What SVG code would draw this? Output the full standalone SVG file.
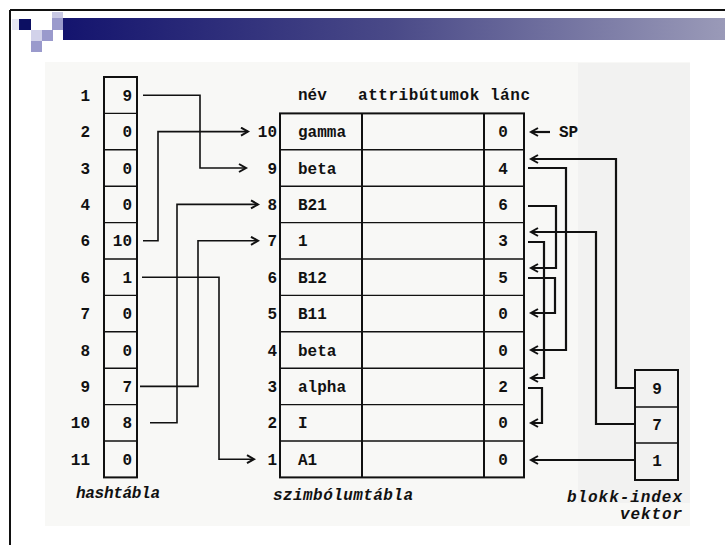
<svg xmlns="http://www.w3.org/2000/svg" width="725" height="545" viewBox="0 0 725 545">
<defs>
<linearGradient id="bar" x1="0" y1="0" x2="1" y2="0">
<stop offset="0" stop-color="#14146e"/>
<stop offset="0.5" stop-color="#4a4a88"/>
<stop offset="1" stop-color="#9a9ab8"/>
</linearGradient>
<marker id="ah" markerUnits="userSpaceOnUse" markerWidth="12" markerHeight="12" refX="8" refY="5" orient="auto">
<path d="M1,1 L8,5 L1,9" fill="none" stroke="#111" stroke-width="2"/>
</marker>
<style>
.t{font-family:"Liberation Mono","DejaVu Sans Mono",monospace;font-weight:bold;font-size:16px;fill:#111}
.n{text-anchor:end}
.c{text-anchor:middle}
.i{font-style:italic}
.box{fill:none;stroke:#111;stroke-width:2}
.ln{fill:none;stroke:#111;stroke-width:1.4}
.con{fill:none;stroke:#111;stroke-width:1.6}
.ch{fill:none;stroke:#111;stroke-width:2.2}
</style>
</defs>
<!-- slide frame and header -->
<rect x="0" y="0" width="725" height="545" fill="#ffffff"/>
<rect x="45" y="62" width="645" height="464" fill="#f8f8f6"/>
<rect x="578" y="63" width="112" height="440" fill="#ececea" opacity="0.45"/>
<line x1="10" y1="10" x2="725" y2="10" stroke="#111" stroke-width="2"/>
<line x1="10" y1="10" x2="10" y2="545" stroke="#111" stroke-width="2"/>
<rect x="63" y="18" width="662" height="22" fill="url(#bar)"/>
<rect x="12" y="19" width="7" height="11" fill="#e6e6f2"/>
<rect x="19" y="19" width="12" height="11" fill="#0c0f62"/>
<rect x="52" y="12" width="11" height="6" fill="#c8c8e4"/>
<rect x="52" y="18" width="11" height="12" fill="#9a9acc"/>
<rect x="31" y="30" width="11" height="11" fill="#d2d2ea"/>
<rect x="42" y="30" width="11" height="11" fill="#9a9acc"/>
<rect x="31" y="41" width="11" height="11" fill="#9a9acc"/>

<!-- hash table -->
<g id="hashtabla">
<rect class="box" x="104" y="77" width="33" height="400.4"/>
<path class="ln" d="M104,113.4H137M104,149.8H137M104,186.2H137M104,222.6H137M104,259H137M104,295.4H137M104,331.8H137M104,368.2H137M104,404.6H137M104,441H137"/>
<g class="t n">
<text x="90" y="100.7">1</text><text x="90" y="137.1">2</text><text x="90" y="173.5">3</text><text x="90" y="209.9">4</text><text x="90" y="246.3">6</text><text x="90" y="282.7">6</text><text x="90" y="319.1">7</text><text x="90" y="355.5">8</text><text x="90" y="391.9">9</text><text x="90" y="428.3">10</text><text x="90" y="464.7">11</text>
<text x="132" y="100.7">9</text><text x="132" y="137.1">0</text><text x="132" y="173.5">0</text><text x="132" y="209.9">0</text><text x="132" y="246.3">10</text><text x="132" y="282.7">1</text><text x="132" y="319.1">0</text><text x="132" y="355.5">0</text><text x="132" y="391.9">7</text><text x="132" y="428.3">8</text><text x="132" y="464.7">0</text>
</g>
<text class="t i" x="76" y="498" textLength="84">hashtábla</text>
</g>

<!-- symbol table -->
<g id="szimbolumtabla">
<text class="t" x="298" y="100">név</text>
<text class="t" x="358" y="100" textLength="172">attribútumok lánc</text>
<rect class="box" x="280" y="113.4" width="244" height="364"/>
<path class="box" d="M362,113.4V477.4M484,113.4V477.4"/>
<path class="ln" d="M280,149.8H524M280,186.2H524M280,222.6H524M280,259H524M280,295.4H524M280,331.8H524M280,368.2H524M280,404.6H524M280,441H524"/>
<g class="t n">
<text x="277" y="137.1">10</text><text x="277" y="173.5">9</text><text x="277" y="209.9">8</text><text x="277" y="246.3">7</text><text x="277" y="282.7">6</text><text x="277" y="319.1">5</text><text x="277" y="355.5">4</text><text x="277" y="391.9">3</text><text x="277" y="428.3">2</text><text x="277" y="464.7">1</text>
</g>
<g class="t">
<text x="298" y="137.1">gamma</text><text x="298" y="173.5">beta</text><text x="298" y="209.9">B21</text><text x="298" y="246.3">1</text><text x="298" y="282.7">B12</text><text x="298" y="319.1">B11</text><text x="298" y="355.5">beta</text><text x="298" y="391.9">alpha</text><text x="298" y="428.3">I</text><text x="298" y="464.7">A1</text>
</g>
<g class="t c">
<text x="503" y="137.1">0</text><text x="503" y="173.5">4</text><text x="503" y="209.9">6</text><text x="503" y="246.3">3</text><text x="503" y="282.7">5</text><text x="503" y="319.1">0</text><text x="503" y="355.5">0</text><text x="503" y="391.9">2</text><text x="503" y="428.3">0</text><text x="503" y="464.7">0</text>
</g>
<text class="t" x="559" y="137">SP</text>
<text class="t i" x="273" y="500" textLength="140">szimbólumtábla</text>
</g>

<!-- block index vector -->
<g id="blokk-index">
<rect class="box" x="635" y="370" width="43" height="110"/>
<path class="ln" d="M635,407H678M635,443H678"/>
<g class="t c">
<text x="657" y="393.5">9</text><text x="657" y="430">7</text><text x="657" y="466">1</text>
</g>
<text class="t i" x="567" y="502" textLength="115">blokk-index</text>
<text class="t i" x="620" y="519" textLength="62">vektor</text>
</g>

<!-- connectors -->
<g id="connectors">
<path class="con" marker-end="url(#ah)" d="M143,95.2H200V168H246"/>
<path class="con" marker-end="url(#ah)" d="M143,240.8H158V131.6H248"/>
<path class="con" marker-end="url(#ah)" d="M142,277.2H219V459.2H254"/>
<path class="con" marker-end="url(#ah)" d="M140,386.4H198V240.8H258"/>
<path class="con" marker-end="url(#ah)" d="M150,422.8H177V204.4H258"/>
<path class="ch" marker-end="url(#ah)" d="M550,132H531"/>
<path class="ch" marker-end="url(#ah)" d="M635,388H616V159H531"/>
<path class="ch" marker-end="url(#ah)" d="M528,168H566V350H531"/>
<path class="ch" marker-end="url(#ah)" d="M528,206H556V268H531"/>
<path class="ch" marker-end="url(#ah)" d="M635,424H596V232H531"/>
<path class="ch" marker-end="url(#ah)" d="M528,242H544V378H531"/>
<path class="ch" marker-end="url(#ah)" d="M528,278H555V313H531"/>
<path class="ch" marker-end="url(#ah)" d="M528,388H542V423H531"/>
<path class="ch" marker-end="url(#ah)" d="M635,460H531"/>
</g>
</svg>
